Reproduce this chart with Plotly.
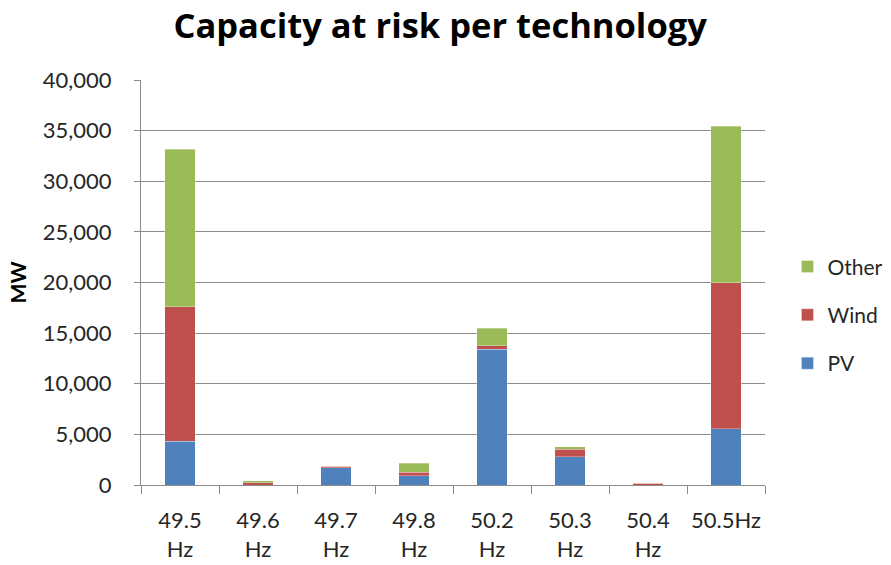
import plotly.graph_objects as go

# Frequency thresholds at which capacity disconnects
categories = ["49.5<br>Hz", "49.6<br>Hz", "49.7<br>Hz", "49.8<br>Hz",
              "50.2<br>Hz", "50.3<br>Hz", "50.4<br>Hz", "50.5Hz"]

# Capacity at risk (MW) per technology
pv_mw = [4300, 0, 1680, 920, 13420, 2770, 0, 5550]
wind_mw = [13300, 230, 150, 340, 330, 760, 150, 14450]
other_mw = [15550, 200, 0, 890, 1750, 230, 0, 15420]

y_ticks = [0, 5000, 10000, 15000, 20000, 25000, 30000, 35000, 40000]

FONT = "Lato"
TEXT = "#262626"
GRID = "#8c8c8c"

# (name, values, colour, legend rank) - legend lists the top segment first
series = [
    ("PV", pv_mw, "#4F81BD", 3),
    ("Wind", wind_mw, "#C0504D", 2),
    ("Other", other_mw, "#9BBB59", 1),
]

fig = go.Figure()
for name, vals, color, rank in series:
    fig.add_trace(go.Bar(
        x=categories, y=vals, name=name, legendgroup=name, legendrank=rank,
        marker=dict(color=color, line=dict(color="rgba(255,255,255,0.6)", width=0.5)),
    ))

fig.update_layout(
    width=891, height=565,
    margin=dict(l=141, r=126, t=80, b=80, autoexpand=False),
    paper_bgcolor="white", plot_bgcolor="white",
    barmode="stack", bargap=0.615,
    font=dict(family=FONT, color=TEXT, size=21),
    title=dict(text="<b>Capacity at risk per technology</b>",
               x=0.494, xanchor="center", y=0.955, yanchor="middle",
               font=dict(family="Open Sans", size=34.5, color="black")),
    legend=dict(x=1.036, xanchor="left", xref="paper", y=0.42, yanchor="middle",
                traceorder="grouped", tracegroupgap=18,
                font=dict(family=FONT, size=21, color=TEXT),
                itemwidth=30),
    showlegend=True,
)

fig.update_yaxes(
    range=[0, 40000], tickvals=y_ticks, tickformat=",d",
    tickfont=dict(size=22), automargin=False,
    showgrid=True, gridcolor=GRID, gridwidth=1,
    showline=True, linecolor=GRID, linewidth=1,
    ticks="outside", ticklen=6, tickcolor=GRID,
    ticklabelstandoff=18, zeroline=False,
    title=dict(text="<b>MW</b>", standoff=10,
               font=dict(family=FONT, size=21, color="black")),
)
fig.update_xaxes(
    showline=True, linecolor=GRID, linewidth=1, automargin=False,
    ticks="outside", ticklen=8, tickcolor=GRID, tickson="boundaries",
    tickfont=dict(size=22),
    ticklabelstandoff=16, tickangle=0,
)

fig.write_html("out.html")
